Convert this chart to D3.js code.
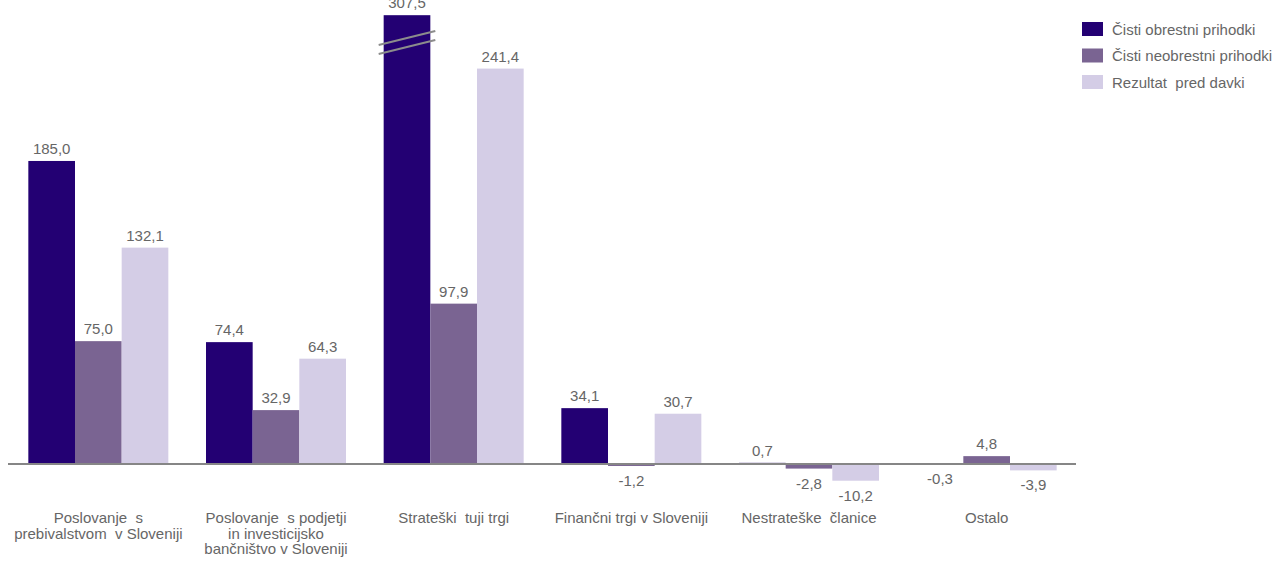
<!DOCTYPE html>
<html>
<head>
<meta charset="utf-8">
<script src="https://cdn.jsdelivr.net/npm/d3@7"></script>
<style>
  body { margin: 0; background: #fff; }
  svg text { font-family: "Liberation Sans", Arial, sans-serif; font-size: 15px; fill: #666; white-space: pre; }
</style>
</head>
<body>
<div id="plot"></div>
<script>
var width = 1279, height = 563;

// data
var categories = [
  ['Poslovanje  s', 'prebivalstvom  v Sloveniji'],
  ['Poslovanje  s podjetji', 'in investicijsko', 'bančništvo v Sloveniji'],
  ['Strateški  tuji trgi'],
  ['Finančni trgi v Sloveniji'],
  ['Nestrateške  članice'],
  ['Ostalo']
];
var seriesNames = ['Čisti obrestni prihodki', 'Čisti neobrestni prihodki', 'Rezultat  pred davki'];
var obrestni   = [185.0, 74.4, 307.5, 34.1, 0.7, -0.3];
var neobrestni = [75.0, 32.9, 97.9, -1.2, -2.8, 4.8];
var rezultat   = [132.1, 64.3, 241.4, 30.7, -10.2, -3.9];
var colors = ['#230073', '#7a6492', '#d4cde6'];

var breakAt = 274;   // bars above this are cut with a break mark

var series = [obrestni, neobrestni, rezultat];

// scales
var x0 = d3.scaleBand()
    .domain(d3.range(categories.length))
    .range([9.5, 1075.5])
    .paddingInner(0.212)
    .paddingOuter(0.106);

var x1 = d3.scaleBand()
    .domain(d3.range(series.length))
    .range([0, x0.bandwidth()]);

var y = d3.scaleLinear()
    .domain([0, 280])
    .range([464, 464 - 280 * 1.638]);

var svg = d3.select('#plot').append('svg')
    .attr('width', width)
    .attr('height', height);

var groups = svg.selectAll('g.cat')
    .data(categories)
    .enter().append('g')
    .attr('class', 'cat')
    .attr('transform', function(d, i) { return 'translate(' + x0(i) + ',0)'; });

function fmt(v) { return v.toFixed(1).replace('.', ','); }

groups.each(function(c, ci) {
  var g = d3.select(this);
  series.forEach(function(s, si) {
    var v = s[ci];
    var shown = Math.min(v, breakAt);
    var top = v >= 0 ? y(shown) : y(0);
    var bottom = v >= 0 ? y(0) : y(v);
    g.append('rect')
      .attr('x', x1(si))
      .attr('y', top)
      .attr('width', x1.bandwidth())
      .attr('height', Math.max(bottom - top, 0))
      .attr('fill', colors[si]);

    var cx = x1(si) + x1.bandwidth() / 2;
    g.append('text')
      .attr('x', cx)
      .attr('y', v >= 0 ? top - 7 : bottom + 20)
      .attr('text-anchor', 'middle')
      .text(fmt(v));

    if (v > breakAt) {
      var bx = x1(si);
      [0, 9].forEach(function(off) {
        g.append('line')
          .attr('x1', bx - 5).attr('y1', 45 + off)
          .attr('x2', bx + x1.bandwidth() + 5).attr('y2', 31 + off)
          .attr('stroke', '#8c8c8c')
          .attr('stroke-width', 2);
      });
    }
  });

  // category label
  var t = g.append('text')
    .attr('text-anchor', 'middle')
    .attr('y', 523);
  c.forEach(function(line, li) {
    t.append('tspan')
      .attr('x', x0.bandwidth() / 2)
      .attr('dy', li === 0 ? 0 : 15.5)
      .text(line);
  });
});

// zero axis
svg.append('line')
  .attr('x1', 8).attr('x2', 1076)
  .attr('y1', y(0)).attr('y2', y(0))
  .attr('stroke', '#868686')
  .attr('stroke-width', 2);

// legend
var legend = svg.selectAll('g.legend')
  .data(seriesNames)
  .enter().append('g')
  .attr('class', 'legend')
  .attr('transform', function(d, i) { return 'translate(1082,' + (22 + i * 26.5) + ')'; });

legend.append('rect')
  .attr('width', 21).attr('height', 14)
  .attr('fill', function(d, i) { return colors[i]; });

legend.append('text')
  .attr('x', 30).attr('y', 12.5)
  .text(function(d) { return d; });
</script>
</body>
</html>
